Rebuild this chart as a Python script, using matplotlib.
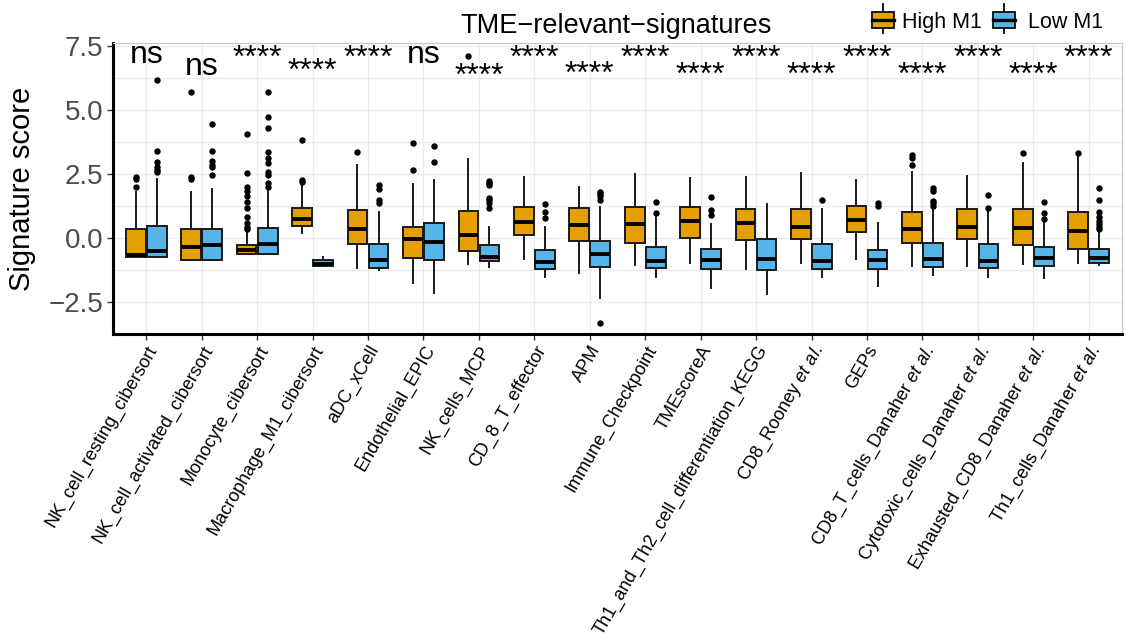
import matplotlib
matplotlib.use('Agg')
import matplotlib.pyplot as plt
from matplotlib.patches import Rectangle
from matplotlib.lines import Line2D

plt.rcParams['font.family'] = ['Liberation Sans', 'DejaVu Sans']
plt.rcParams['mathtext.fontset'] = 'custom'
plt.rcParams['mathtext.rm'] = 'Liberation Sans'
plt.rcParams['mathtext.it'] = 'Liberation Sans:italic'

# ---------------- data ----------------
categories = [
    'NK_cell_resting_cibersort', 'NK_cell_activated_cibersort', 'Monocyte_cibersort',
    'Macrophage_M1_cibersort', 'aDC_xCell', 'Endothelial_EPIC', 'NK_cells_MCP',
    'CD_8_T_effector', 'APM', 'Immune_Checkpoint', 'TMEscoreA',
    'Th1_and_Th2_cell_differentiation_KEGG', r'CD8_Rooney $\mathit{et\ al.}$', 'GEPs',
    r'CD8_T_cells_Danaher $\mathit{et\ al.}$', r'Cytotoxic_cells_Danaher $\mathit{et\ al.}$',
    r'Exhausted_CD8_Danaher $\mathit{et\ al.}$', r'Th1_cells_Danaher $\mathit{et\ al.}$',
]
groups = ['High M1', 'Low M1']
group_colors = ['#E69F00', '#56B4E9']

high_q1 = [-0.75, -0.85, -0.64, 0.47, -0.25, -0.77, -0.49, 0.13, -0.10, -0.21, 0.00, -0.09, -0.05, 0.22, -0.18, -0.04, -0.29, -0.44]
high_med = [-0.68, -0.36, -0.47, 0.75, 0.34, -0.05, 0.10, 0.64, 0.51, 0.55, 0.65, 0.60, 0.42, 0.72, 0.34, 0.44, 0.39, 0.26]
high_q3 = [0.34, 0.34, -0.26, 1.17, 1.09, 0.44, 1.05, 1.22, 1.17, 1.21, 1.21, 1.13, 1.12, 1.25, 1.02, 1.15, 1.13, 1.02]
high_lo = [-0.75, -0.85, -0.64, 0.21, -1.16, -1.77, -1.03, -0.83, -1.38, -1.05, -0.99, -1.22, -0.96, -0.81, -1.08, -1.08, -1.02, -0.99]
high_hi = [1.81, 1.80, 0.21, 2.11, 2.85, 2.11, 3.09, 2.37, 1.98, 2.50, 2.33, 2.40, 2.53, 2.27, 2.58, 2.42, 2.94, 3.18]
high_fliers = [
    [2.0, 2.3, 2.4],
    [2.29, 2.40, 5.69],
    [0.34, 0.44, 0.60, 0.83, 1.16, 1.42, 1.65, 1.85, 2.0, 2.53, 4.05],
    [2.19, 2.27, 3.83],
    [3.37],
    [2.64, 3.70],
    [7.1],
    [], [], [], [], [], [], [],
    [2.85, 3.14, 3.24],
    [],
    [3.33],
    [3.33],
]

low_q1 = [-0.75, -0.86, -0.64, -1.09, -1.18, -0.85, -0.90, -1.21, -1.13, -1.17, -1.21, -1.26, -1.20, -1.22, -1.12, -1.18, -1.08, -0.96]
low_med = [-0.52, -0.29, -0.25, -1.03, -0.86, -0.16, -0.73, -0.95, -0.63, -0.89, -0.86, -0.81, -0.90, -0.86, -0.81, -0.90, -0.79, -0.79]
low_q3 = [0.48, 0.34, 0.39, -0.86, -0.25, 0.57, -0.29, -0.47, -0.13, -0.36, -0.43, -0.04, -0.23, -0.47, -0.18, -0.23, -0.36, -0.43]
low_lo = [-0.75, -0.86, -0.64, -1.09, -1.25, -2.14, -1.12, -1.54, -2.36, -1.51, -1.97, -2.20, -1.51, -1.86, -1.45, -1.54, -1.56, -1.05]
low_hi = [2.29, 1.93, 1.94, -0.73, 1.03, 2.27, 0.43, 0.42, 1.20, 0.83, 0.55, 1.33, 1.12, 0.60, 1.13, 1.02, 0.64, 0.25]
low_fliers = [
    [2.59, 2.66, 2.76, 2.96, 3.40, 6.17],
    [2.47, 2.76, 2.86, 3.01, 3.39, 4.44],
    [2.0, 2.14, 2.46, 2.57, 2.93, 3.14, 3.36, 4.31, 4.73, 5.72],
    [],
    [1.35, 1.48, 1.90, 2.07],
    [2.98, 3.58],
    [1.16, 1.35, 1.48, 1.58, 2.06, 2.14, 2.24],
    [0.77, 1.03, 1.32],
    [1.48, 1.64, 1.72, 1.80, -3.33],
    [0.96, 1.39],
    [0.89, 1.09, 1.59],
    [],
    [1.48],
    [1.25, 1.35],
    [1.25, 1.35, 1.46, 1.84, 1.94],
    [1.18, 1.69],
    [0.74, 0.99, 1.42],
    [0.34, 0.42, 0.54, 0.68, 0.83, 1.03, 1.48, 1.96],
]

sig_labels = ['ns', 'ns', '****', '****', '****', 'ns', '****', '****', '****',
              '****', '****', '****', '****', '****', '****', '****', '****', '****']
sig_y = [6.84, 6.37, 6.68, 6.17, 6.68, 6.84, 5.98, 6.68, 6.05,
         6.68, 6.02, 6.68, 6.02, 6.68, 6.02, 6.68, 6.02, 6.68]

yticks = [-2.5, 0.0, 2.5, 5.0, 7.5]
yminor = [-1.25, 1.25, 3.75, 6.25]

# ---------------- figure ----------------
W, H = 1127, 642
fig = plt.figure(figsize=(W / 100, H / 100), dpi=100)
ax = fig.add_axes([113 / W, 1 - 334 / H, (1122 - 113) / W, (334 - 43) / H])

x = list(range(len(categories)))
offset = 0.19
bw = 0.355

def make_stats(q1, med, q3, lo, hi, fl):
    return [dict(q1=a, med=b, q3=c, whislo=d, whishi=e, fliers=f)
            for a, b, c, d, e, f in zip(q1, med, q3, lo, hi, fl)]

all_stats = [make_stats(high_q1, high_med, high_q3, high_lo, high_hi, high_fliers),
             make_stats(low_q1, low_med, low_q3, low_lo, low_hi, low_fliers)]

for gi, (st, col) in enumerate(zip(all_stats, group_colors)):
    pos = [xi + (-offset if gi == 0 else offset) for xi in x]
    ax.bxp(st, positions=pos, widths=bw, patch_artist=True, showcaps=False,
           manage_ticks=False,
           boxprops=dict(facecolor=col, edgecolor='#1a1a1a', linewidth=1.4),
           medianprops=dict(color='black', linewidth=2.8, solid_capstyle='butt'),
           whiskerprops=dict(color='#1a1a1a', linewidth=1.4),
           flierprops=dict(marker='o', markerfacecolor='black', markeredgecolor='black',
                           markersize=3.6, linestyle='none'))

for xi, lab, yv in zip(x, sig_labels, sig_y):
    ax.text(xi, yv, lab, ha='center', va='baseline', fontsize=23, color='black')

ax.set_xlim(-0.6, len(categories) - 1 + 0.6)
ax.set_ylim(-3.75, 7.62)
ax.set_yticks(yticks)
ax.set_yticks(yminor, minor=True)
ax.set_yticklabels([f'{v:.1f}'.replace('-', '\u2212') for v in yticks])
ax.set_xticks(x)
ax.set_xticklabels(categories, rotation=60, ha='right', va='top', rotation_mode='anchor')

ax.set_axisbelow(True)
ax.grid(axis='y', which='both', color='#EBEBEB', linewidth=1.0)
ax.grid(axis='x', which='major', color='#EBEBEB', linewidth=1.0)

for s in ['left', 'bottom']:
    ax.spines[s].set_color('black')
    ax.spines[s].set_linewidth(2.2)
for s in ['top', 'right']:
    ax.spines[s].set_color('#C8C8C8')
    ax.spines[s].set_linewidth(0.9)

ax.tick_params(axis='y', which='major', length=4, width=1, color='#333333',
               labelsize=20, labelcolor='#4D4D4D', pad=3)
ax.tick_params(axis='x', which='major', length=4, width=1, color='#333333',
               labelsize=13.1, labelcolor='black', pad=2)
ax.tick_params(which='minor', length=0)

ax.set_ylabel('Signature score', fontsize=21, color='black', labelpad=9)

# ---------------- title / legend ----------------
fig.text(616 / W, 1 - 33 / H, 'TME\u2212relevant\u2212signatures', ha='center', va='baseline',
         fontsize=19.5, color='black')

key_x = [872, 993]
text_x = [902, 1028]
for kx, tx, col, g in zip(key_x, text_x, group_colors, groups):
    kw = 22
    fig.add_artist(Rectangle((kx / W, 1 - 28 / H), kw / W, 16 / H, transform=fig.transFigure,
                             facecolor=col, edgecolor='#1a1a1a', linewidth=1.4))
    cx = (kx + kw / 2) / W
    fig.add_artist(Line2D([cx, cx], [1 - 12 / H, 1 - 4 / H], transform=fig.transFigure,
                          color='#1a1a1a', linewidth=1.4))
    fig.add_artist(Line2D([cx, cx], [1 - 33 / H, 1 - 28 / H], transform=fig.transFigure,
                          color='#1a1a1a', linewidth=1.4))
    fig.add_artist(Line2D([kx / W, (kx + kw) / W], [1 - 20 / H, 1 - 20 / H],
                          transform=fig.transFigure, color='black', linewidth=2.4))
    fig.text(tx / W, 1 - 28 / H, g, ha='left', va='baseline', fontsize=15.5, color='black')

fig.savefig('out.png', dpi=100)
